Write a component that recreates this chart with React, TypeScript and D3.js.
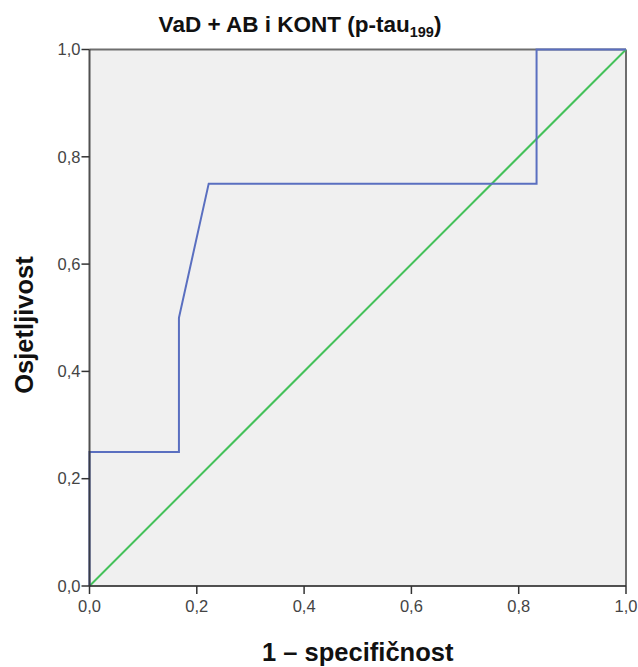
import * as d3 from 'd3';
import React from 'react';

// ROC curve points (1 - specificity, sensitivity)
const fpr = [0, 0, 0.1667, 0.1667, 0.2222, 0.8333, 0.8333, 1];
const tpr = [0, 0.25, 0.25, 0.5, 0.75, 0.75, 1, 1];
const refLine = [0, 1];
const ticks = [0, 0.2, 0.4, 0.6, 0.8, 1.0];
const tickLabels = ['0,0', '0,2', '0,4', '0,6', '0,8', '1,0'];

const width = 638;
const height = 667;
const margin = { top: 49.5, right: 12, bottom: 81, left: 89.5 };

const App: React.FC = () => {
  const x = d3.scaleLinear().domain([0, 1]).range([margin.left, width - margin.right]);
  const y = d3.scaleLinear().domain([0, 1]).range([height - margin.bottom, margin.top]);

  const rocPoints: [number, number][] = fpr.map((f, i) => [f, tpr[i]]);
  const line = d3.line<[number, number]>()
    .x(d => x(d[0]))
    .y(d => y(d[1]));

  const font = 'Arial, "Liberation Sans", sans-serif';
  const x0 = x(0), x1 = x(1), y0 = y(0), y1 = y(1);

  return (
    <svg width={width} height={height} style={{ position: 'absolute', left: 0, top: 0 }}>
      <rect x={0} y={0} width={width} height={height} fill="#fff" />
      {/* plot background */}
      <rect x={x0} y={y1} width={x1 - x0} height={y0 - y1} fill="#f0f0f0" />

      {/* frame */}
      <line x1={x0} x2={x1} y1={y1} y2={y1} stroke="#6e6e6e" strokeWidth={2} />
      <line x1={x1} x2={x1} y1={y1} y2={y0} stroke="#6e6e6e" strokeWidth={2} />

      {/* reference diagonal */}
      <path
        d={line(refLine.map(v => [v, v] as [number, number])) ?? ''}
        fill="none"
        stroke="#44c15a"
        strokeWidth={2}
      />

      {/* ROC curve */}
      <path d={line(rocPoints) ?? ''} fill="none" stroke="#5a6fc0" strokeWidth={2} />

      {/* axes */}
      <line x1={x0} x2={x0} y1={y1} y2={y0} stroke="#333" strokeWidth={2} opacity={0.85} />
      <line x1={x0} x2={x1} y1={y0} y2={y0} stroke="#333" strokeWidth={2} opacity={0.85} />

      {/* y ticks */}
      {ticks.map((t, i) => (
        <g key={`y${i}`}>
          <line x1={x0 - 8} x2={x0} y1={y(t)} y2={y(t)} stroke="#333" strokeWidth={1.5} />
          <text
            x={x0 - 9}
            y={y(t)}
            dy="0.35em"
            textAnchor="end"
            fontFamily={font}
            fontSize={16.5}
            fill="#444"
          >
            {tickLabels[i]}
          </text>
        </g>
      ))}

      {/* x ticks */}
      {ticks.map((t, i) => (
        <g key={`x${i}`}>
          <line x1={x(t)} x2={x(t)} y1={y0} y2={y0 + 8} stroke="#333" strokeWidth={1.5} />
          <text
            x={x(t)}
            y={y0 + 26}
            textAnchor="middle"
            fontFamily={font}
            fontSize={16.5}
            fill="#444"
          >
            {tickLabels[i]}
          </text>
        </g>
      ))}

      {/* title */}
      <text x={300} y={32} textAnchor="middle" fontFamily={font} fontSize={22.5} fontWeight="bold" fill="#111">
        VaD + AB i KONT (p-tau
        <tspan fontSize={14.5} dy={5}>199</tspan>
        <tspan dy={-5}>)</tspan>
      </text>

      {/* axis titles */}
      <text
        x={(x0 + x1) / 2}
        y={661}
        textAnchor="middle"
        fontFamily={font}
        fontSize={25.5}
        fontWeight="bold"
        fill="#111"
      >
        1 – specifičnost
      </text>
      <text
        transform={`translate(33,325) rotate(-90)`}
        textAnchor="middle"
        fontFamily={font}
        fontSize={25.5}
        fontWeight="bold"
        fill="#111"
      >
        Osjetljivost
      </text>
    </svg>
  );
};

export default App;
